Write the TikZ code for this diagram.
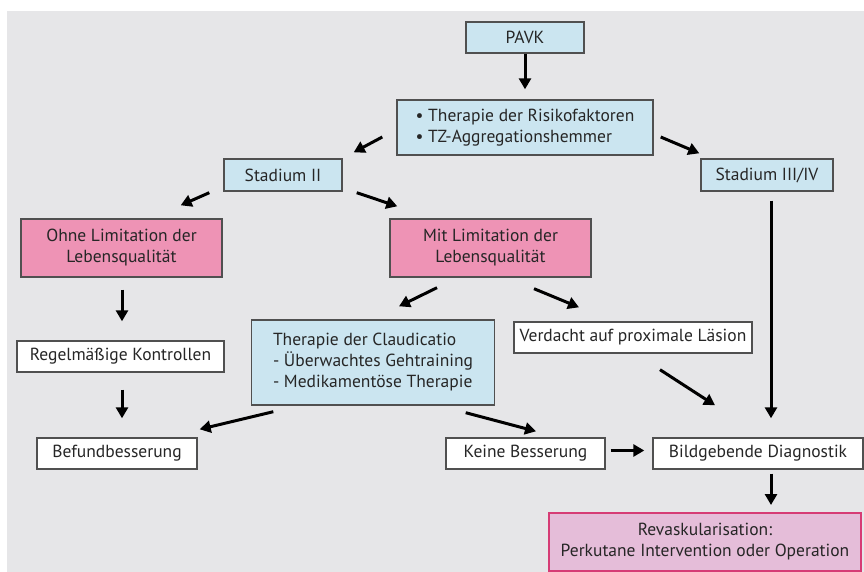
\documentclass[tikz,border=0pt]{standalone}
\usepackage{fontspec}
\setmainfont{PT Sans}
\usetikzlibrary{arrows.meta}
\definecolor{boxblue}{HTML}{CBE5F0}
\definecolor{boxpink}{HTML}{EE93B5}
\definecolor{revfill}{HTML}{E5BDD9}
\definecolor{revline}{HTML}{D63C75}
\definecolor{paper}{HTML}{E6E6E8}
\definecolor{edge}{HTML}{505050}
\tikzstyle{base} = [rectangle, inner sep=0pt, align=center, draw=edge, line width=1.4pt,
font=\fontsize{17.5}{21}\selectfont, text=black!85]
\tikzstyle{stage} = [base, fill=boxblue]
\tikzstyle{quality} = [base, fill=boxpink]
\tikzstyle{plain} = [base, fill=white]
\tikzstyle{revas} = [base, fill=revfill, draw=revline, line width=2pt]
\tikzstyle{arrow} = [-{Triangle[length=11pt,width=12pt]}, line width=3pt, black]

\begin{document}
\begin{tikzpicture}[x=1pt, y=-1pt]
    \useasboundingbox (0,0) rectangle (864,572);
    \fill[white] (0,0) rectangle (864,572);
    \fill[paper] (7,11) rectangle (864,572);

    \node(pavk)[stage, minimum width=118pt, minimum height=31pt] at (525,37.5) {PAVK};
    \node(risk)[stage, minimum width=256pt, minimum height=55pt, align=left] at (525,127.5)
        {\textbullet\ Therapie der Risikofaktoren\\\textbullet\ TZ-Aggregationshemmer};
    \node(stageTwo)[stage, minimum width=118pt, minimum height=32pt] at (283,175) {Stadium II};
    \node(stageFour)[stage, minimum width=132pt, minimum height=32pt] at (767,175) {Stadium III/IV};
    \node(withoutLimit)[quality, minimum width=201pt, minimum height=58pt] at (121.5,248)
        {Ohne Limitation der\\Lebensqualität};
    \node(withLimit)[quality, minimum width=201pt, minimum height=58pt] at (490.5,248)
        {Mit Limitation der\\Lebensqualität};
    \node(checkups)[plain, minimum width=207pt, minimum height=31pt] at (120.5,356.5) {Regelmäßige Kontrollen};
    \node(claudication)[stage, minimum width=243pt, minimum height=85pt, align=left] at (373,362.5)
        {Therapie der Claudicatio\\- Überwachtes Gehtraining\\- Medikamentöse Therapie};
    \node(proximal)[plain, minimum width=238pt, minimum height=31pt] at (633,337.5) {Verdacht auf proximale Läsion};
    \node(improved)[plain, minimum width=160pt, minimum height=31pt] at (117,453.5) {Befundbesserung};
    \node(noImprove)[plain, minimum width=159pt, minimum height=31pt] at (525.5,453.5) {Keine Besserung};
    \node(imaging)[plain, minimum width=210pt, minimum height=31pt] at (758,453.5) {Bildgebende Diagnostik};
    \node(revasc)[revas, minimum width=312pt, minimum height=58pt] at (705,542)
        {Revaskularisation:\\Perkutane Intervention oder Operation};

    \draw[arrow] (pavk.south) -- ([yshift=10pt]risk.north);
    \draw[arrow] ([xshift=-14pt, yshift=-9.5pt]risk.west) -- ([xshift=11pt, yshift=6pt]stageTwo.north east);
    \draw[arrow] ([xshift=7pt, yshift=-9.5pt]risk.east) -- ([xshift=-1pt, yshift=5pt]stageFour.north west);
    \draw[arrow] ([xshift=-14pt, yshift=-1pt]stageTwo.south west) -- ([xshift=-42pt, yshift=13pt]withoutLimit.north east);
    \draw[arrow] ([xshift=14pt, yshift=-1pt]stageTwo.south east) -- ([xshift=8pt, yshift=12pt]withLimit.north west);
    \draw[arrow] ([xshift=4pt, yshift=-9pt]stageFour.south) -- ([xshift=13pt, yshift=19pt]imaging.north);

    \draw[arrow] ([xshift=0.5pt, yshift=-12pt]withoutLimit.south) -- ([xshift=1.5pt, yshift=19pt]checkups.north);
    \draw[arrow] ([xshift=1.5pt, yshift=-17pt]checkups.south) -- ([xshift=5pt, yshift=19pt]improved.north);

    \draw[arrow] ([xshift=-53.5pt, yshift=-10pt]withLimit.south) -- ([xshift=26pt, yshift=13pt]claudication.north);
    \draw[arrow] ([xshift=43.5pt, yshift=-11pt]withLimit.south) -- ([xshift=-54pt, yshift=14pt]proximal.north);

    \draw[arrow] ([xshift=22.5pt, yshift=-6pt]claudication.south west) -- ([xshift=2pt, yshift=8pt]improved.north east);
    \draw[arrow] ([xshift=-29.5pt, yshift=-7pt]claudication.south east) -- ([xshift=10.5pt, yshift=6pt]noImprove.north);
    \draw[arrow] ([xshift=27pt, yshift=-16pt]proximal.south) -- ([xshift=-43pt, yshift=32pt]imaging.north);
    \draw[arrow] ([xshift=5pt, yshift=3pt]noImprove.east) -- ([xshift=-8pt, yshift=3pt]imaging.west);
    \draw[arrow] ([xshift=13pt, yshift=-4pt]imaging.south) -- ([xshift=66pt, yshift=7pt]revasc.north);
\end{tikzpicture}
\end{document}
